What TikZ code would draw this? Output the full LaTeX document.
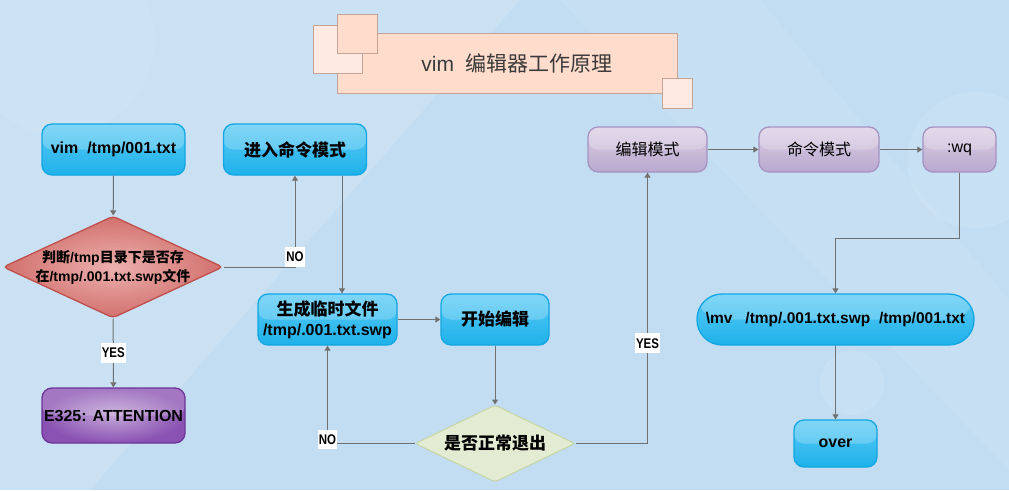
\documentclass[tikz,border=0pt]{standalone}
\usepackage{fontspec}
\setmainfont{Liberation Sans}
\newfontfamily\cjk{Noto Sans CJK SC}
\newfontfamily\narrowsans{Liberation Sans}[FakeStretch=0.82]
\usetikzlibrary{shapes.geometric,arrows.meta}

\definecolor{bgblue}{HTML}{C2DDF2}
\definecolor{linegray}{HTML}{707070}
\definecolor{bluetop}{HTML}{5CCBF5}
\definecolor{bluebot}{HTML}{1EB1EA}
\definecolor{blueline}{HTML}{12A6E2}
\definecolor{purpin}{HTML}{C3A5D8}
\definecolor{purpout}{HTML}{8A52B2}
\definecolor{purpline}{HTML}{6E3498}
\definecolor{redin}{HTML}{EBB0AE}
\definecolor{redout}{HTML}{D2706D}
\definecolor{redline}{HTML}{C0504D}
\definecolor{greenfill}{HTML}{E3ECD2}
\definecolor{greenline}{HTML}{C6D5A4}
\definecolor{lilactop}{HTML}{DCD0E6}
\definecolor{lilacbot}{HTML}{B9A8CE}
\definecolor{lilacline}{HTML}{A593C0}
\definecolor{peach}{HTML}{FFDCCC}
\definecolor{peachlight}{HTML}{FFE9E3}
\definecolor{peachline}{HTML}{C7A396}
\definecolor{titletext}{HTML}{3A3A3A}

\begin{document}
\begin{tikzpicture}[
    x=1pt, y=-1pt,
    % Node styles
    gloss/.style={path picture={\fill[white,opacity=.22]
        (path picture bounding box.north west) rectangle (path picture bounding box.east);}},
    bluebox/.style={draw=blueline, line width=1.3pt, rounded corners=10pt,
        top color=bluetop, bottom color=bluebot, gloss, inner sep=2pt,
        minimum width=143pt, minimum height=51pt, align=center,
        font=\fontsize{16}{20}\selectfont\bfseries},
    lilacbox/.style={draw=lilacline, line width=1.3pt, rounded corners=10pt,
        top color=lilactop, bottom color=lilacbot, gloss, inner sep=2pt,
        minimum height=45pt, font=\fontsize{16}{18}\selectfont},
    purplebox/.style={draw=purpline, line width=1.3pt, rounded corners=10pt,
        inner color=purpin, outer color=purpout, gloss, inner sep=0pt,
        minimum width=143pt, minimum height=55pt,
        font=\fontsize{16}{18}\selectfont\bfseries},
    reddecision/.style={diamond, draw=redline, line width=1.3pt, rounded corners=4pt,
        inner color=redin, outer color=redout, inner sep=-5pt, aspect=2.15,
        minimum width=220pt, minimum height=102pt, align=center,
        font=\fontsize{14}{19}\selectfont\bfseries},
    greendecision/.style={diamond, draw=greenline, line width=1pt, rounded corners=3pt,
        fill=greenfill, inner sep=0pt, aspect=2.1,
        minimum width=160pt, minimum height=77pt,
        font=\fontsize{17}{18}\selectfont\bfseries},
    peachsq/.style={draw=peachline, line width=0.8pt, fill=peachlight},
    % Connectors and labels
    arr/.style={draw=linegray, line width=1pt, -{Triangle[width=6pt,length=5pt]}},
    lbl/.style={fill=white, inner xsep=1pt, inner ysep=5pt,
        font=\narrowsans\fontsize{14}{14}\selectfont\bfseries}
]

    % --- background ---
    \useasboundingbox (0,0) rectangle (1009,490);
    \fill[bgblue] (0,0) rectangle (1009,490);
    \fill[white,opacity=.13] (0,0) -- (520,0) -- (90,490) -- (0,490) -- cycle;
    \fill[white,opacity=.08] (560,0) -- (760,0) -- (1009,300) -- (1009,470) -- cycle;
    \fill[white,opacity=.10] (975,160) circle (68);
    \fill[white,opacity=.10] (852,383) circle (32);
    \fill[white,opacity=.08] (60,40) circle (95);

    % --- title ---
    \node[draw=peachline, line width=0.8pt, fill=peach,
          minimum width=340pt, minimum height=60pt] (titlebar) at (507,63) {};
    \node[peachsq, minimum width=49pt, minimum height=48pt] (sqa) at (337.5,49) {};
    \node[peachsq, fill=peach, minimum width=40pt, minimum height=39pt] (sqb) at (357,33.5) {};
    \node[peachsq, minimum width=30pt, minimum height=30pt] (sqc) at (677,93) {};
    \node[text=titletext, font=\fontsize{21}{22}\selectfont] (title) at (517,63)
        {vim\ \ {\cjk 编辑器工作原理}};

    % --- left column ---
    \node[bluebox] (vim) at (113.5,149.5) {vim\ \ /tmp/001.txt};
    \node[reddecision] (check) at (113,267)
        {{\cjk 判断}/tmp{\cjk 目录下是否存}\\{\cjk 在}/tmp/.001.txt.swp{\cjk 文件}};
    \node[purplebox] (attn) at (113.5,415.5) {E325: ATTENTION};

    % --- middle column ---
    \node[bluebox] (cmd) at (295,149.5) {\cjk\fontsize{17}{20}\selectfont 进入命令模式};
    \node[bluebox, minimum width=139pt] (swp) at (327.5,319.5)
        {{\cjk\fontsize{17}{20}\selectfont 生成临时文件}\\/tmp/.001.txt.swp};
    \node[bluebox, minimum width=108pt] (edit) at (495,319.5) {\cjk\fontsize{17}{20}\selectfont 开始编辑};
    \node[greendecision] (quit) at (495,443.5) {\cjk 是否正常退出};

    % --- right column ---
    \node[lilacbox, minimum width=119pt] (emode) at (647.5,149.5) {\cjk 编辑模式};
    \node[lilacbox, minimum width=120pt] (cmode) at (819,149.5) {\cjk 命令模式};
    \node[lilacbox, minimum width=73pt] (wq) at (959.5,149.5) {:wq};
    \node[bluebox, rounded corners=25pt, minimum width=277pt,
          font=\fontsize{15.5}{20}\selectfont\bfseries] (mv) at (835.5,319.5)
        {\textbackslash mv\ \ \ /tmp/.001.txt.swp\ \ /tmp/001.txt};
    \node[bluebox, minimum width=83pt, minimum height=47pt] (over) at (835.5,443.5) {over};

    % --- connectors ---
    \draw[arr] (vim) -- (check);
    \draw[arr] (check) -- node[lbl] (yesa) {YES} (attn);
    \draw[arr] (check.east) -| node[lbl, pos=0.5, yshift=10pt] (noa) {NO} (cmd.south);
    \draw[arr] ([xshift=47pt]cmd.south) -- ([xshift=14.5pt]swp.north);
    \draw[arr] (swp) -- (edit);
    \draw[arr] (edit) -- (quit);
    \draw[arr] (quit.west) -| node[lbl, pos=0.5, yshift=4pt] (nob) {NO} (swp.south);
    \draw[arr] (quit.east) -| node[lbl, pos=0.685] (yesb) {YES} (emode.south);
    \draw[arr] (emode) -- (cmode);
    \draw[arr] (cmode) -- (wq);
    \draw[arr] (wq.south) -- ++(0,66) -| (mv.north);
    \draw[arr] (mv) -- (over);

\end{tikzpicture}
\end{document}
